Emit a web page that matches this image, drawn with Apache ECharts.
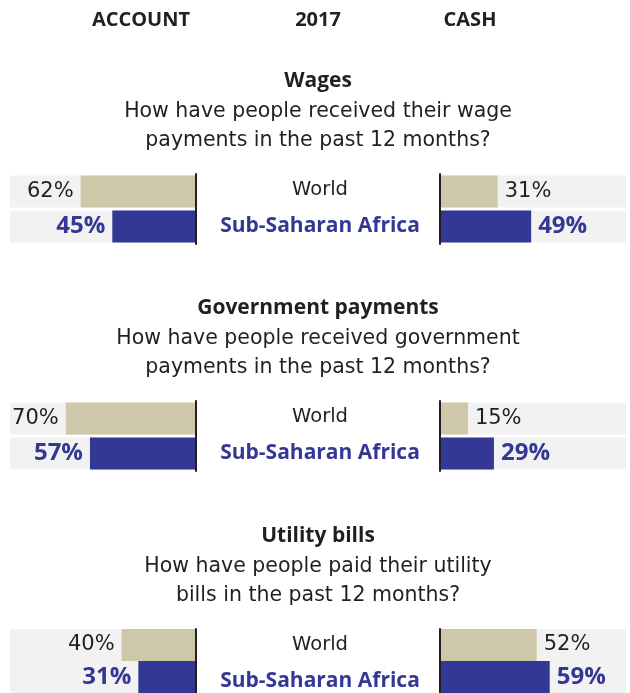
<!DOCTYPE html>
<html>
<head>
<meta charset="utf-8">
<script src="https://cdn.jsdelivr.net/npm/echarts@6/dist/echarts.min.js"></script>
<style>
html,body{margin:0;padding:0;background:#fff;}
#c{width:630px;height:693px;}
</style>
</head>
<body>
<div id="c"></div>
<script>
// ---- data ----
var headers = ['ACCOUNT', '2017', 'CASH'];
var regions = ['World', 'Sub-Saharan Africa'];
var sectionTitles = ['Wages', 'Government payments', 'Utility bills'];
var sectionQuestions = [
  ['How have people received their wage', 'payments in the past 12 months?'],
  ['How have people received government', 'payments in the past 12 months?'],
  ['How have people paid their utility', 'bills in the past 12 months?']
];
var accountWorld = [62, 70, 40];
var accountSSA   = [45, 57, 31];
var cashWorld    = [31, 15, 52];
var cashSSA      = [49, 29, 59];

// ---- style ----
var FONT = '"DejaVu Sans"';
var BFONT = '"Open Sans"';
var BEIGE = '#cfc7a9';
var BLUE = '#333894';
var DARK = '#231f20';
var BG = '#f2f2f2';
var sectionTop = [174, 401, 629];
var titleY = [81, 308, 536];

var grids = [], xAxes = [], yAxes = [], series = [], graphics = [];

headers.forEach(function (h, i) {
  graphics.push({
    type: 'text', x: [141, 318, 470][i], y: 20,
    style: { text: h, font: 'bold 20px ' + BFONT, fill: DARK, textAlign: 'center', textVerticalAlign: 'middle' }
  });
});

function item(v, isSSA, side) {
  return {
    value: v,
    itemStyle: { color: isSSA ? BLUE : BEIGE },
    label: {
      show: true,
      position: side === 'L' ? 'left' : 'right',
      distance: 7,
      formatter: '{c}%',
      fontFamily: isSSA ? BFONT : FONT,
      fontSize: isSSA ? 24 : 21,
      fontWeight: isSSA ? 'bold' : 'normal',
      color: isSSA ? BLUE : DARK
    }
  };
}

for (var s = 0; s < 3; s++) {
  graphics.push({
    type: 'text', x: 318, y: titleY[s],
    style: { text: sectionTitles[s], font: 'bold 21px ' + BFONT, fill: DARK, textAlign: 'center', textVerticalAlign: 'middle' }
  });
  sectionQuestions[s].forEach(function (line, k) {
    graphics.push({
      type: 'text', x: 318, y: titleY[s] + 31 + k * 29,
      style: { text: line, font: '20.5px ' + FONT, fill: DARK, textAlign: 'center', textVerticalAlign: 'middle' }
    });
  });
  regions.forEach(function (r, k) {
    graphics.push({
      type: 'text', x: 320, y: sectionTop[s] + 16 + k * 36,
      style: { text: r, font: k ? ('bold 21px ' + BFONT) : ('19.5px ' + FONT), fill: k ? BLUE : DARK, textAlign: 'center', textVerticalAlign: 'middle' }
    });
  });

  ['L', 'R'].forEach(function (side) {
    var gi = grids.length;
    grids.push({ left: side === 'L' ? 10 : 440, width: 186, top: sectionTop[s], height: 70 });
    xAxes.push({ gridIndex: gi, type: 'value', min: 0, max: 100, inverse: side === 'L', show: false });
    yAxes.push({
      gridIndex: gi, type: 'category', data: regions, inverse: true,
      position: side === 'L' ? 'right' : 'left', z: 10,
      axisLine: { show: true, lineStyle: { color: DARK, width: 2 } },
      axisTick: { show: false }, axisLabel: { show: false }, splitLine: { show: false }
    });
    var w = side === 'L' ? accountWorld[s] : cashWorld[s];
    var a = side === 'L' ? accountSSA[s] : cashSSA[s];
    series.push({
      type: 'bar', xAxisIndex: gi, yAxisIndex: gi,
      barWidth: 32, showBackground: true,
      backgroundStyle: { color: BG },
      silent: true, animation: false,
      data: [item(w, false, side), item(a, true, side)]
    });
  });
}

var chart = echarts.init(document.getElementById('c'), null, { renderer: 'canvas' });
chart.setOption({
  animation: false,
  grid: grids, xAxis: xAxes, yAxis: yAxes, series: series,
  graphic: graphics
});
</script>
</body>
</html>
